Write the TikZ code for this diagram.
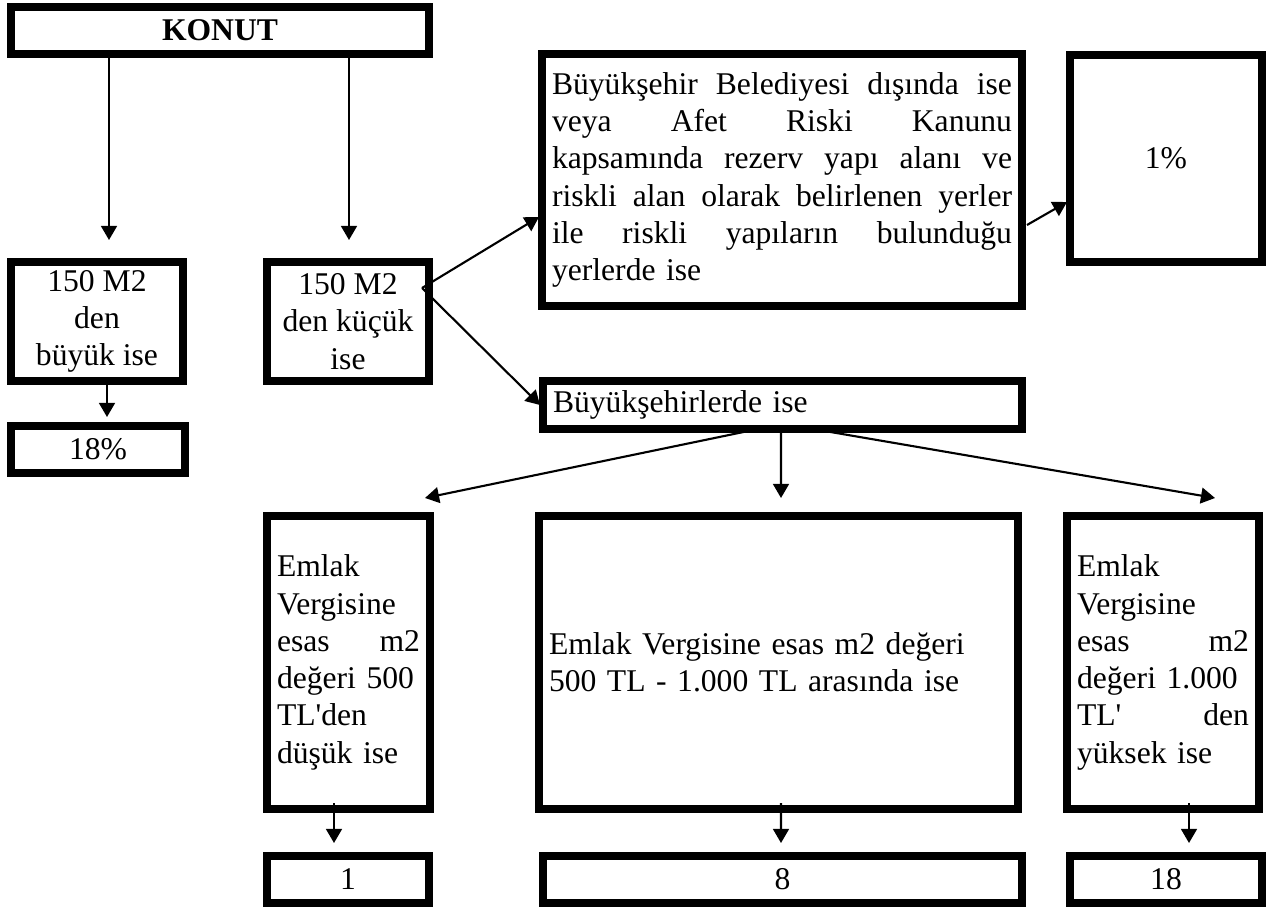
\documentclass[tikz,border=0pt]{standalone}
\usepackage{fontspec}
\setmainfont{Liberation Serif}[Ligatures=TeXOff]
\usetikzlibrary{arrows.meta,calc}
\newlength\px
\setlength\px{0.02cm}
\newcommand\jl[1]{\leavevmode\hbox to\hsize{#1}}
\begin{document}
\begin{tikzpicture}[x=0.02cm,y=-0.02cm,
  bx/.style={draw, line width=4.5pt, inner sep=0pt, outer sep=0pt,
    font=\fontsize{18}{21.2}\selectfont, align=center},
  arr/.style={line width=1.2pt, -{Triangle[length=8pt,width=9pt]}}]
\useasboundingbox[fill=white] (0,0) rectangle (1271,909);
% top
\node[bx, minimum width=418\px, minimum height=47\px] (konut) at (220,30.5) {\textbf{KONUT}};
\node[bx, minimum width=172\px, minimum height=119\px] (buyuk) at (97,321.5) {150 M2\\den\\büyük ise};
\node[bx, minimum width=174\px, minimum height=47\px] (p18) at (98,449.5) {18\%};
\node[bx, minimum width=162\px, minimum height=119\px] (kucuk) at (348,321.5) {150 M2\\den küçük\\ise};
\node[bx, minimum width=480\px, minimum height=252\px, text width=460\px, align=left] (big) at (782,180) {%
\jl{Büyükşehir\hfil Belediyesi\hfil dışında\hfil ise}\\
\jl{veya\hfil Afet\hfil Riski\hfil Kanunu}\\
\jl{kapsamında\hfil rezerv\hfil yapı\hfil alanı\hfil ve}\\
\jl{riskli\hfil alan\hfil olarak\hfil belirlenen\hfil yerler}\\
\jl{ile\hfil riskli\hfil yapıların\hfil bulunduğu}\\
yerlerde ise};
\node[bx, minimum width=192\px, minimum height=207\px] (p1) at (1166,158.5) {1\%};
\node[bx, minimum width=479\px, minimum height=48\px, text width=459\px, align=left] (bsehir) at (782.5,405) {Büyükşehirlerde ise};
% lower
\node[bx, minimum width=163\px, minimum height=293\px, text width=143\px, align=left] (low1) at (348.5,662.5) {%
Emlak\\Vergisine\\\jl{esas\hfil m2}\\değeri 500\\TL'den\\düşük ise};
\node[bx, minimum width=479\px, minimum height=293\px, text width=459\px, align=left] (mid) at (778.5,662.5) {%
Emlak Vergisine esas m2 değeri\\500 TL - 1.000 TL arasında ise};
\node[bx, minimum width=192\px, minimum height=293\px, text width=172\px, align=left] (low3) at (1163,662.5) {%
Emlak\\Vergisine\\\jl{esas\hfil m2}\\değeri 1.000\\\jl{TL'\hfil den}\\yüksek ise};
\node[bx, minimum width=162\px, minimum height=47\px] (v1) at (348,879.5) {1};
\node[bx, minimum width=479\px, minimum height=47\px] (v8) at (782.5,879.5) {8};
\node[bx, minimum width=192\px, minimum height=47\px] (v18) at (1166,879.5) {18};
% connectors
\draw[arr] ($(konut.south west)+(98,0)$) -- ($(buyuk.north west)+(98,-22)$);
\draw[arr] ($(konut.south west)+(338,0)$) -- ($(kucuk.north west)+(82,-22)$);
\draw[arr] ($(buyuk.south)+(10,0)$) -- ($(p18.north)+(9,-9)$);
\coordinate (ks) at ($(kucuk.north east)+(-7,26)$);
\draw[arr] (ks) -- ($(big.west)+(-3,37)$);
\draw[arr] (ks) -- ($(bsehir.west)+(-3,0)$);
\draw[arr] ($(big.east)+(5,45)$) -- ($(p1.west)+(-3,43.5)$);
\draw[arr] ($(bsehir.south)+(-24.5,0)$) -- ($(low1.north)+(76.5,-18)$);
\draw[arr] ($(bsehir.south)+(-1.5,0)$) -- ($(mid.north)+(2.5,-18)$);
\draw[arr] ($(bsehir.south)+(30.5,0)$) -- ($(low3.north)+(52,-18)$);
\draw[arr] ($(low1.south)+(-14.5,-6)$) -- ($(v1.north)+(-14,-13)$);
\draw[arr] ($(mid.south)+(2.5,-6)$) -- ($(v8.north)+(-1.5,-13)$);
\draw[arr] ($(low3.south)+(26,-6)$) -- ($(v18.north)+(23,-13)$);
\end{tikzpicture}
\end{document}
